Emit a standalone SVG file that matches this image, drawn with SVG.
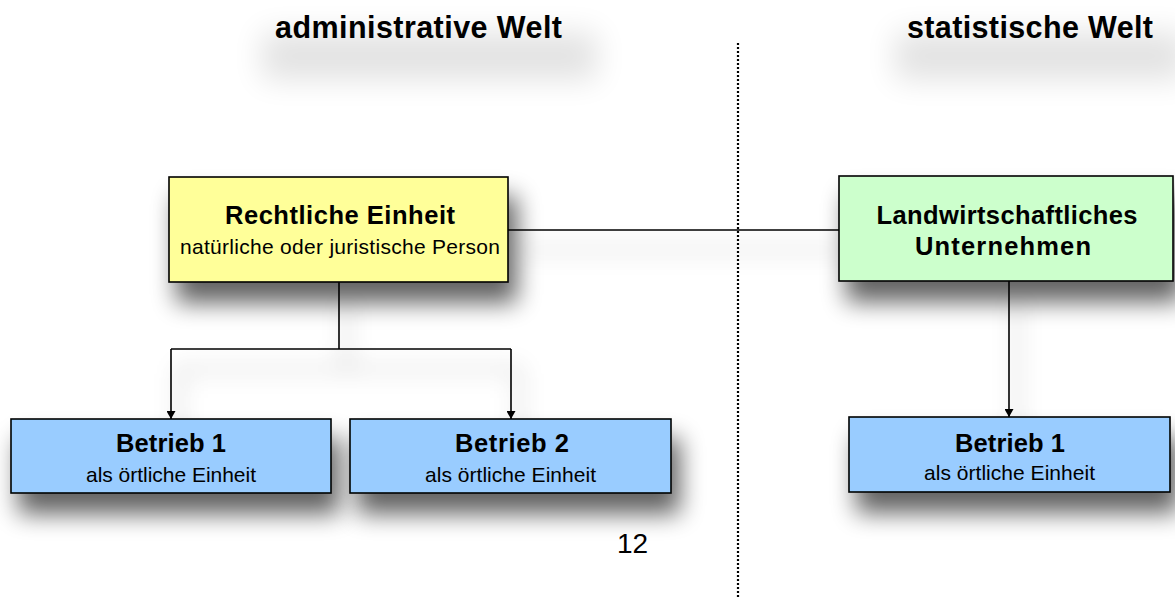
<svg xmlns="http://www.w3.org/2000/svg" width="1175" height="598" viewBox="0 0 1175 598">
  <style>
    .box { stroke: #000; stroke-width: 1.6; }
    .legal { fill: #FFFF99; }
    .enterprise { fill: #CCFFCC; }
    .site { fill: #99CCFF; }
    .title { font-family: "Liberation Sans", Arial, sans-serif; font-weight: bold; font-size: 30.5px; fill: #000; }
    .head { font-family: "Liberation Sans", Arial, sans-serif; font-weight: bold; font-size: 25.5px; fill: #000; text-anchor: middle; }
    .sub { font-family: "Liberation Sans", Arial, sans-serif; font-size: 21px; fill: #000; text-anchor: middle; }
    .page { font-family: "Liberation Sans", Arial, sans-serif; font-size: 28px; fill: #000; }
    .link { stroke: #000; stroke-width: 1.6; fill: none; }
    .divider { stroke: #000; stroke-width: 2.2; stroke-dasharray: 2 2; fill: none; }
  </style>
  <defs>
    <filter id="soft" x="-30%" y="-60%" width="170%" height="240%">
      <feGaussianBlur in="SourceAlpha" stdDeviation="12"/>
      <feOffset dx="8" dy="20"/>
      <feComponentTransfer><feFuncA type="linear" slope="0.62"/></feComponentTransfer>
      <feMerge><feMergeNode/><feMergeNode in="SourceGraphic"/></feMerge>
    </filter>
    <filter id="haze" x="-30%" y="-100%" width="160%" height="300%">
      <feGaussianBlur stdDeviation="15"/>
    </filter>
    <marker id="arrow" viewBox="0 0 8 9" refX="8" refY="4.5" markerWidth="8" markerHeight="9" markerUnits="userSpaceOnUse" orient="auto">
      <path d="M0,0 L8,4.5 L0,9 Z" fill="#000"/>
    </marker>
  </defs>

  <rect width="1175" height="598" fill="#fff"/>

  <!-- soft haze under the two headings -->
  <rect x="262" y="32" width="335" height="48" fill="#000" opacity="0.11" filter="url(#haze)"/>
  <rect x="895" y="32" width="290" height="48" fill="#000" opacity="0.11" filter="url(#haze)"/>

  <g id="heading-admin">
    <text class="title" x="275" y="38" textLength="287" lengthAdjust="spacing">administrative Welt</text>
  </g>
  <g id="heading-stat">
    <text class="title" x="907" y="38" textLength="246" lengthAdjust="spacing">statistische Welt</text>
  </g>

  <!-- dotted boundary between the two worlds -->
  <g id="divider">
    <line class="divider" x1="738" y1="43" x2="738" y2="598"/>
  </g>

  <g id="connectors" filter="url(#soft)">
    <line class="link" x1="508" y1="230" x2="839" y2="230"/>
    <polyline class="link" points="339,282 339,349"/>
    <polyline class="link" points="171,349 511,349"/>
    <line class="link" x1="171" y1="349" x2="171" y2="419" marker-end="url(#arrow)"/>
    <line class="link" x1="511" y1="349" x2="511" y2="419" marker-end="url(#arrow)"/>
    <line class="link" x1="1009" y1="281" x2="1009" y2="417" marker-end="url(#arrow)"/>
  </g>

  <g id="legal-unit">
    <rect class="box legal" x="169" y="177" width="339" height="105" filter="url(#soft)"/>
    <text class="head" x="340" y="224" textLength="230" lengthAdjust="spacing">Rechtliche Einheit</text>
    <text class="sub" x="340" y="254" textLength="320" lengthAdjust="spacing">natürliche oder juristische Person</text>
  </g>

  <g id="farm-enterprise">
    <rect class="box enterprise" x="839" y="176" width="334" height="105" filter="url(#soft)"/>
    <text class="head" x="1007" y="224" textLength="261" lengthAdjust="spacing">Landwirtschaftliches</text>
    <text class="head" x="1003" y="255" textLength="176" lengthAdjust="spacing">Unternehmen</text>
  </g>

  <g id="site-admin-1">
    <rect class="box site" x="11" y="419" width="320" height="74" filter="url(#soft)"/>
    <text class="head" x="171" y="452" textLength="110" lengthAdjust="spacing">Betrieb 1</text>
    <text class="sub" x="171" y="482" textLength="170" lengthAdjust="spacing">als örtliche Einheit</text>
  </g>

  <g id="site-admin-2">
    <rect class="box site" x="350" y="419" width="321" height="74" filter="url(#soft)"/>
    <text class="head" x="512" y="452" textLength="114" lengthAdjust="spacing">Betrieb 2</text>
    <text class="sub" x="510.5" y="482" textLength="171" lengthAdjust="spacing">als örtliche Einheit</text>
  </g>

  <g id="site-stat-1">
    <rect class="box site" x="849" y="417" width="321" height="75" filter="url(#soft)"/>
    <text class="head" x="1010" y="452" textLength="110" lengthAdjust="spacing">Betrieb 1</text>
    <text class="sub" x="1009.5" y="480" textLength="171" lengthAdjust="spacing">als örtliche Einheit</text>
  </g>

  <g id="page-number">
    <text class="page" x="617" y="553">12</text>
  </g>
</svg>
